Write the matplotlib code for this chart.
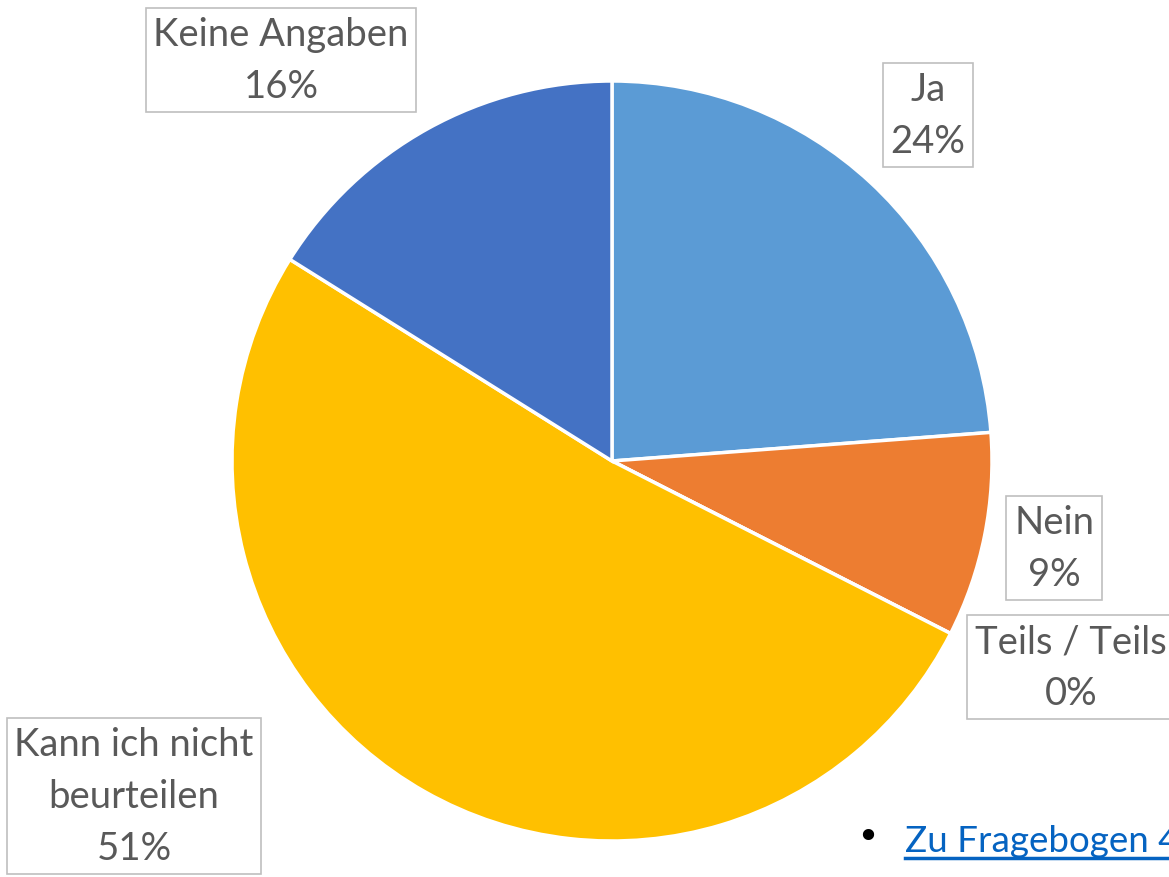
import matplotlib.pyplot as plt
from matplotlib.lines import Line2D

# slice data (percent)
categories = ["Ja", "Nein", "Teils / Teils", "Kann ich nicht\nbeurteilen", "Keine Angaben"]
values = [23.8, 8.7, 0.0, 51.4, 16.1]
pct_labels = ["24%", "9%", "0%", "51%", "16%"]
colors = ["#5B9BD5", "#ED7D31", "#A5A5A5", "#FFC000", "#4472C4"]

# label box centres in pixel coordinates (y from top)
label_pos = [(928, 116), (1054, 549), (1071, 668), (134, 797), (281, 61)]

W, H = 1169, 878
fig = plt.figure(figsize=(W / 100, H / 100), dpi=100)
ax = fig.add_axes([0, 0, 1, 1])
ax.set_xlim(0, W)
ax.set_ylim(0, H)
ax.axis("off")

ax.pie(values, colors=colors, startangle=90, counterclock=False,
       center=(612, H - 462), radius=380,
       wedgeprops=dict(edgecolor="white", linewidth=2.5))
ax.set_xlim(0, W)
ax.set_ylim(0, H)

for cat, pct, (x, y) in zip(categories, pct_labels, label_pos):
    ax.text(x, H - y, "%s\n%s" % (cat, pct), ha="center", va="center",
            fontsize=27.5, family="Lato", color="#595959", linespacing=1.55,
            bbox=dict(boxstyle="square,pad=0.2", facecolor="white",
                      edgecolor="#BFBFBF", linewidth=1.2))

# bullet + link text at the bottom right
ax.text(868, H - 838, "\u2022", ha="center", va="center", fontsize=28,
        family="DejaVu Sans", color="black")
ax.text(905, H - 852, "Zu Fragebogen 4", ha="left", va="baseline",
        fontsize=26.5, family="Lato", color="#0563C1")
ax.add_line(Line2D([905, W], [H - 859, H - 859], color="#0563C1", linewidth=2.5))

fig.savefig("out.png", dpi=100)
